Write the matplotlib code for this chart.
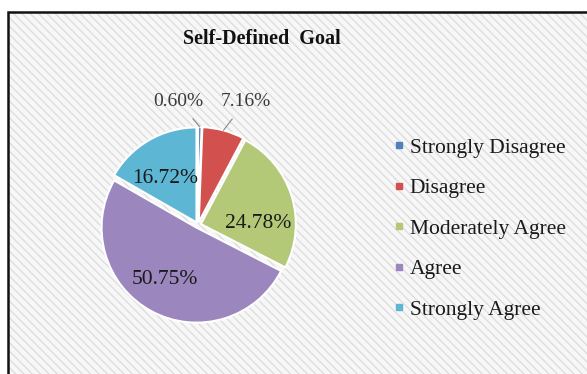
import numpy as np
import matplotlib
matplotlib.use("Agg")
import matplotlib.pyplot as plt
from matplotlib.patches import Rectangle
from matplotlib.lines import Line2D

# data
categories = ["Strongly Disagree", "Disagree", "Moderately Agree", "Agree", "Strongly Agree"]
shares = [0.60, 7.16, 24.78, 50.75, 16.72]
colors = ["#4f81bd", "#d2504d", "#b3c978", "#9b86bd", "#5db7d4"]

# where Excel put each percentage label (pie data units, radius = 1)
label_pos = [(-0.20, 1.24), (0.48, 1.24), (0.60, 0.01), (-0.33, -0.55), (-0.33, 0.47)]

plt.rcParams["font.family"] = ["Liberation Serif", "DejaVu Serif"]
plt.rcParams["hatch.linewidth"] = 1.0

W, H = 587, 374
fig = plt.figure(figsize=(W / 100, H / 100), dpi=100)
fig.patch.set_facecolor("white")

# chart area: hatched grey background with black frame, running off the right/bottom
x0, y0 = 8 / W, 1 - 12 / H
bg = Rectangle((x0, -0.05), 1.1, y0 + 0.05, transform=fig.transFigure,
               facecolor="#f7f7f7", edgecolor="#dedede", hatch="\\\\\\\\", lw=0, zorder=0)
frame = Rectangle((x0, -0.05), 1.1, y0 + 0.05, transform=fig.transFigure,
                  facecolor="none", edgecolor="#111111", lw=1.8, zorder=1)
fig.add_artist(bg)
fig.add_artist(frame)

fig.text(262 / W, 1 - 39 / H, "Self-Defined  Goal", ha="center", va="center",
         fontsize=14.5, fontweight="bold", color="#111111")

# pie
cx, cy, r = 198, 225, 100
ax = fig.add_axes([(cx - r) / W, (H - cy - r) / H, 2 * r / W, 2 * r / H])
ax.axis("off")

wedges, _ = ax.pie(shares, colors=colors, startangle=90, counterclock=False,
                   radius=0.95, explode=[0.03] * len(shares),
                   wedgeprops=dict(edgecolor="white", linewidth=1.5))
ax.set_xlim(-1, 1)
ax.set_ylim(-1, 1)
ax.set_aspect("equal")

for i, (w, (lx, ly)) in enumerate(zip(wedges, label_pos)):
    txt = f"{shares[i]:.2f}%"
    if i < 2:
        # small slices get a label outside with a leader line
        mid = np.deg2rad((w.theta1 + w.theta2) / 2)
        ex, ey = w.center
        px, py = ex + w.r * np.cos(mid), ey + w.r * np.sin(mid)
        ax.annotate(txt, xy=(px, py), xytext=(lx, ly), ha="center", va="center",
                    fontsize=14, color="#3a3a3a", annotation_clip=False,
                    arrowprops=dict(arrowstyle="-", color="#888888", lw=0.8,
                                    shrinkA=6, shrinkB=0))
    else:
        ax.text(lx, ly, txt, ha="center", va="center", fontsize=15.5, color="#1a1a1a")

handles = [Line2D([], [], marker="s", linestyle="none", markersize=4,
                  markerfacecolor=c, markeredgecolor=c) for c in colors]
fig.legend(handles, categories, loc="upper left",
           bbox_to_anchor=(384 / W, 1 - 127 / H), frameon=False,
           fontsize=15.5, handlelength=0.4, handletextpad=0.3,
           labelspacing=0.95, borderpad=0, labelcolor="#1a1a1a")

fig.savefig("out.png", dpi=100)
